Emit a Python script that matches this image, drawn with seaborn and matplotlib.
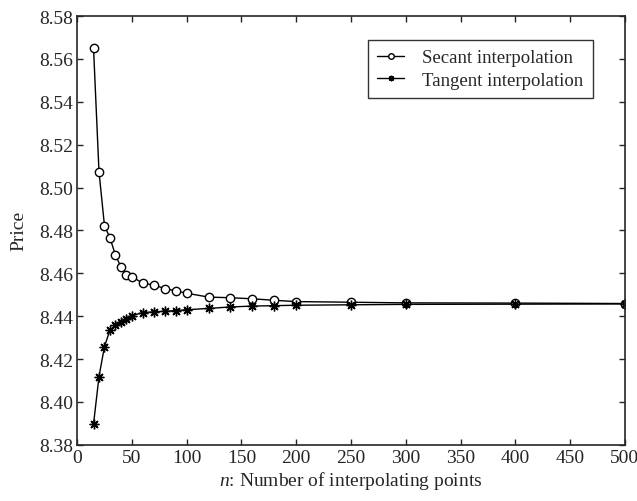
import pandas as pd
import matplotlib.pyplot as plt
import seaborn as sns

# Data
n_points = [15, 20, 25, 30, 35, 40, 45, 50, 60, 70, 80, 90, 100,
            120, 140, 160, 180, 200, 250, 300, 400, 500]
secant_price = [8.5652, 8.5074, 8.4822, 8.4766, 8.4685, 8.4630, 8.4593, 8.4584,
                8.4554, 8.4545, 8.4529, 8.4518, 8.4507, 8.4489, 8.4486, 8.4481,
                8.4474, 8.4468, 8.4465, 8.4462, 8.4461, 8.4459]
tangent_price = [8.3896, 8.4118, 8.4258, 8.4335, 8.4358, 8.4374, 8.4389, 8.4402,
                 8.4417, 8.4420, 8.4423, 8.4426, 8.4430, 8.4436, 8.4443, 8.4447,
                 8.4449, 8.4451, 8.4453, 8.4455, 8.4456, 8.4457]
y_ticks = [8.38, 8.40, 8.42, 8.44, 8.46, 8.48, 8.50, 8.52, 8.54, 8.56, 8.58]

data = pd.DataFrame({'n': n_points, 'secant': secant_price, 'tangent': tangent_price})

sns.set_style("ticks")
plt.rcParams['font.family'] = ['Liberation Serif', 'DejaVu Serif']
plt.rcParams['xtick.direction'] = 'in'
plt.rcParams['ytick.direction'] = 'in'
plt.rcParams['mathtext.fontset'] = 'custom'
plt.rcParams['mathtext.it'] = 'Liberation Serif:italic'
plt.rcParams['mathtext.rm'] = 'Liberation Serif'

fig, ax = plt.subplots(figsize=(6.37, 5.02), dpi=100)
fig.subplots_adjust(left=0.121, right=0.981, top=0.966, bottom=0.112)

sns.lineplot(x='n', y='secant', data=data, ax=ax, color='black', linewidth=1,
             marker='o', markersize=6, markerfacecolor='white',
             markeredgecolor='black', markeredgewidth=1,
             label='Secant interpolation')
sns.lineplot(x='n', y='tangent', data=data, ax=ax, color='black', linewidth=1,
             marker=(8, 2, 0), markersize=7, markerfacecolor='black',
             markeredgecolor='black', markeredgewidth=1,
             label='Tangent interpolation')

ax.set_xlim(0, 500)
ax.set_ylim(8.38, 8.58)
ax.set_xticks(range(0, 501, 50))
ax.set_yticks(y_ticks)
ax.set_yticklabels([f'{t:.2f}' for t in y_ticks])
ax.tick_params(labelsize=14, length=4, width=1, top=True, right=True, pad=3)
for side in ax.spines.values():
    side.set_linewidth(1.2)

ax.set_xlabel('$n$: Number of interpolating points', fontsize=14, labelpad=2)
ax.set_ylabel('Price', fontsize=14, labelpad=8)

leg = ax.legend(loc='upper right', bbox_to_anchor=(0.942, 0.945), fontsize=13.5,
                frameon=True, fancybox=False, handlelength=1.4,
                borderpad=0.5, labelspacing=0.3, handletextpad=1.0,
                borderaxespad=0)
leg.get_frame().set_edgecolor('black')
leg.get_frame().set_linewidth(1)
for h in leg.legend_handles:
    h.set_markersize(4)

plt.savefig('out.png', dpi=100)
